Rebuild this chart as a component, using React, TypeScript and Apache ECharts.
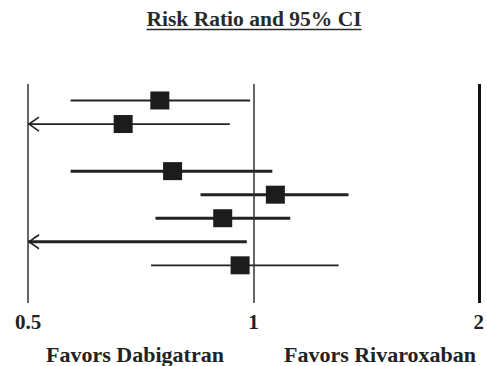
import React, { useEffect, useRef } from "react";
import * as echarts from "echarts";

// Forest plot rows (top to bottom); row 3 is left blank as a spacer.
const rowPositions = [1, 2, 4, 5, 6, 7, 8];
const lowerCI = [0.57, 0.45, 0.57, 0.85, 0.74, 0.45, 0.73];
const riskRatio: (number | null)[] = [0.75, 0.67, 0.78, 1.07, 0.91, null, 0.96];
const upperCI = [0.99, 0.93, 1.06, 1.34, 1.12, 0.98, 1.3];
const heavyLine = [false, false, true, true, true, true, false];

const xTickValues = [0.5, 1, 2];
const referenceLines = [0.5, 1, 2];

const TITLE = "Risk Ratio and 95% CI";
const LEFT_NOTE = "Favors Dabigatran";
const RIGHT_NOTE = "Favors Rivaroxaban";

const X_MIN = 0.5;
const X_MAX = 2;
const FONT = "Liberation Serif, Times New Roman, serif";
const INK = "#222";

function measure(text: string, font: string): number {
  const ctx = document.createElement("canvas").getContext("2d");
  if (!ctx) return text.length * 10;
  ctx.font = font;
  return ctx.measureText(text).width;
}

export default function App() {
  const ref = useRef<HTMLDivElement>(null);

  useEffect(() => {
    document.body.style.margin = "0";
    if (!ref.current) return;
    const chart = echarts.init(ref.current, undefined, { renderer: "svg" });

    const titleX = 254;
    const titleY = 19;
    const titleFont = `bold 21.5px ${FONT}`;
    const titleWidth = measure(TITLE, titleFont);

    const data = rowPositions.map((r, i) => [r, lowerCI[i], upperCI[i]]);

    const textStyle = (size: number, fill: string) => ({
      font: `bold ${size}px ${FONT}`,
      fill,
      textAlign: "center",
      textVerticalAlign: "middle",
    });

    chart.setOption({
      animation: false,
      backgroundColor: "#fff",
      textStyle: { fontFamily: FONT },
      grid: { left: 28, right: 4, top: 84, bottom: 63, containLabel: false },
      xAxis: {
        type: "log",
        logBase: 2,
        min: X_MIN,
        max: X_MAX,
        axisLine: { show: false },
        axisTick: { show: false },
        splitLine: { show: false },
        axisLabel: {
          margin: 8,
          fontFamily: FONT,
          fontWeight: "bold",
          fontSize: 21,
          color: INK,
          showMinLabel: true,
          showMaxLabel: true,
          formatter: (v: number) => {
            const r = Math.round(v * 10) / 10;
            return xTickValues.includes(r) ? String(r) : "";
          },
        },
      },
      yAxis: {
        type: "value",
        inverse: true,
        min: 0.3,
        max: 9.6,
        show: false,
      },
      series: [
        {
          type: "custom",
          data,
          encode: { x: [1, 2], y: 0 },
          clip: false,
          silent: true,
          renderItem: (params: any, api: any) => {
            const i = params.dataIndex;
            const row = api.value(0);
            const lo = api.value(1);
            const hi = api.value(2);
            const est = riskRatio[i];
            const truncated = lo < X_MIN;
            const [x0, y] = api.coord([truncated ? X_MIN : lo, row]);
            const [x1] = api.coord([hi, row]);
            const w = heavyLine[i] ? 3 : 1.8;
            const children: any[] = [
              {
                type: "line",
                shape: { x1: x0, y1: y, x2: x1, y2: y },
                style: { stroke: INK, lineWidth: w },
              },
            ];
            if (truncated) {
              children.push({
                type: "polyline",
                shape: {
                  points: [
                    [x0 + 11, y - 7],
                    [x0 + 1, y],
                    [x0 + 11, y + 7],
                  ],
                },
                style: { stroke: INK, lineWidth: 1.6, fill: "none" },
              });
            }
            if (est != null) {
              const [cx] = api.coord([est, row]);
              children.push({
                type: "rect",
                shape: { x: cx - 9.5, y: y - 9, width: 19, height: 18 },
                style: { fill: "#1c1c1c" },
              });
            }
            return { type: "group", children };
          },
          markLine: {
            silent: true,
            symbol: "none",
            label: { show: false },
            data: referenceLines.map((v) => ({
              xAxis: v,
              lineStyle: {
                type: "solid",
                color: v === X_MAX ? "#111" : "#333",
                width: v === X_MAX ? 3 : 1.5,
              },
            })),
          },
        },
      ],
      graphic: [
        {
          type: "text",
          x: titleX,
          y: titleY,
          style: { text: TITLE, ...textStyle(21.5, "#2a2a2a") },
        },
        {
          type: "line",
          shape: {
            x1: titleX - titleWidth / 2,
            y1: titleY + 10.5,
            x2: titleX + titleWidth / 2,
            y2: titleY + 10.5,
          },
          style: { stroke: "#2a2a2a", lineWidth: 1.5 },
        },
        {
          type: "text",
          x: 135,
          y: 354,
          style: { text: LEFT_NOTE, ...textStyle(22, INK) },
        },
        {
          type: "text",
          x: 380,
          y: 354,
          style: { text: RIGHT_NOTE, ...textStyle(22, INK) },
        },
      ],
    });

    return () => chart.dispose();
  }, []);

  return <div ref={ref} style={{ width: 487, height: 366 }} />;
}
